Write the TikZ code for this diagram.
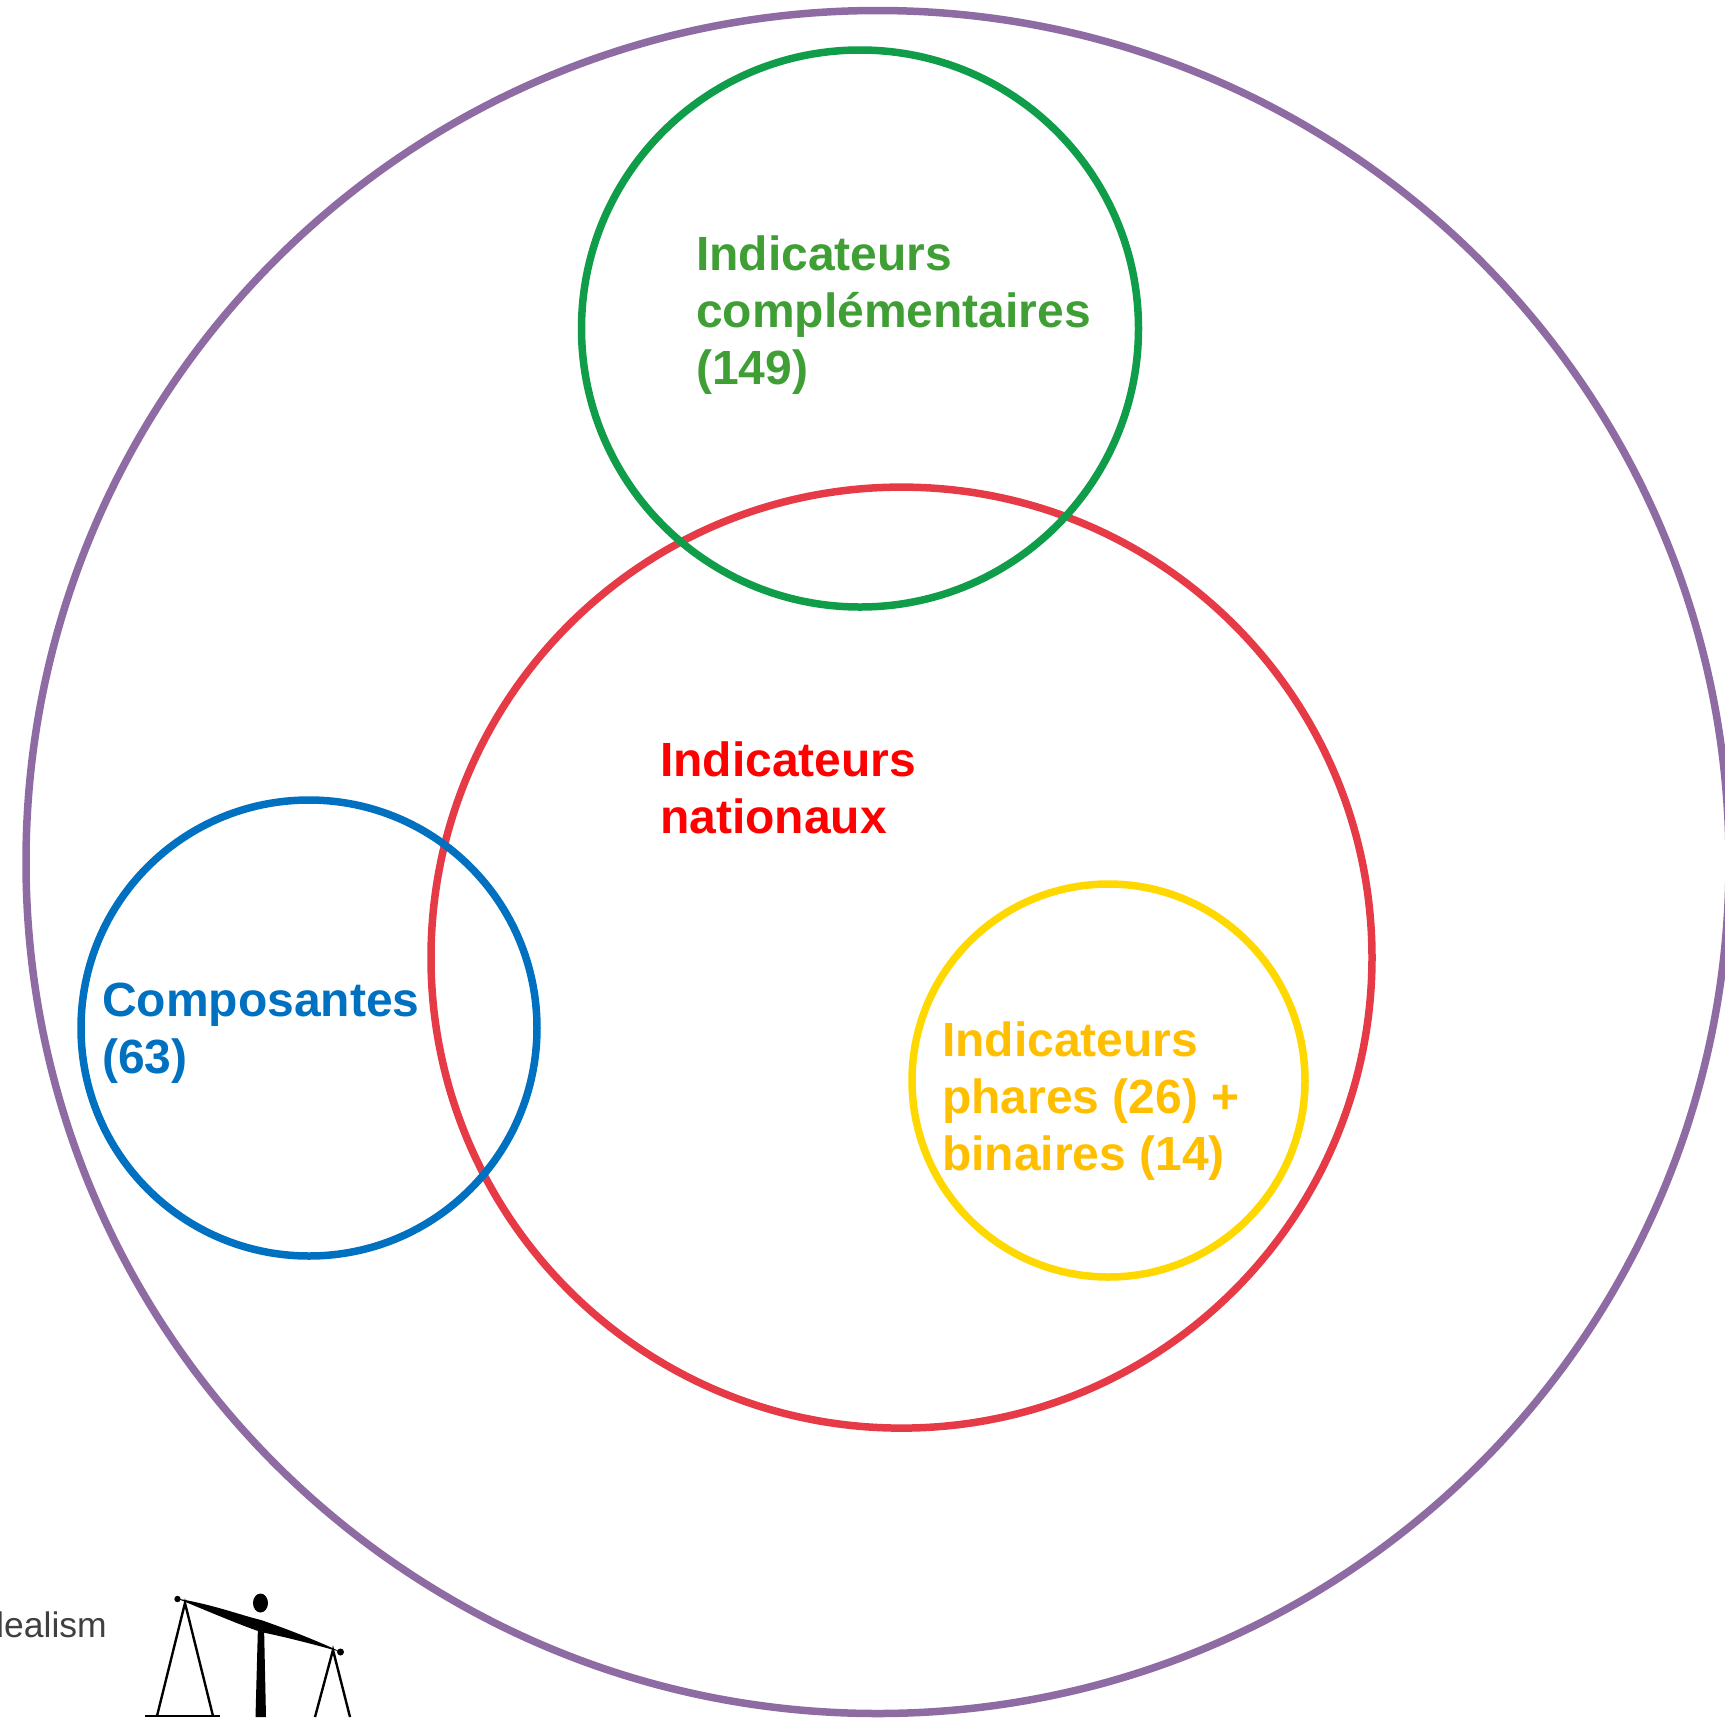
\documentclass[tikz,border=0pt]{standalone}
\usepackage{fontspec}
\setmainfont{Liberation Sans}
\definecolor{cpurple}{HTML}{8E6BA3}
\definecolor{cgreen}{HTML}{0F9D4A}
\definecolor{cred}{HTML}{E73A47}
\definecolor{cblue}{HTML}{0070C0}
\definecolor{cyellow}{HTML}{FFD800}
\definecolor{tgreen}{HTML}{3F9F35}
\definecolor{tred}{HTML}{FF0000}
\definecolor{tyellow}{HTML}{FFBF00}
\tikzset{
  ring/.style={circle,draw=#1,line width=7.5pt,inner sep=0pt,fill=none},
  lab/.style={font=\fontsize{48}{57}\selectfont\bfseries,text=#1,align=left,anchor=west,inner sep=0pt},
}
\begin{document}
\begin{tikzpicture}[x=1pt,y=-1pt]
\useasboundingbox (0,0) rectangle (1725,1717);
\clip (0,0) rectangle (1725,1717);
\node[ring=cpurple,minimum size=1703pt] (outer) at (877.5,862) {};
\node[ring=cred,minimum size=941pt] (national) at (901.5,957.6) {};
\node[ring=cgreen,minimum size=557pt] (compl) at (860,328.5) {};
\node[ring=cblue,minimum size=456pt] (comp) at (309,1028) {};
\node[ring=cyellow,minimum size=393pt] (phares) at (1108.5,1080.5) {};
\node[lab=tgreen] (tcompl) at (696,315) {Indicateurs\\complémentaires\\(149)};
\node[lab=tred] (tnat) at (660,787.5) {Indicateurs\\nationaux};
\node[lab=cblue] (tcomp) at (102,1033) {Composantes\\(63)};
\node[lab=tyellow] (tphares) at (942,1101) {Indicateurs\\phares (26) +\\binaires (14)};
\node[anchor=base east,inner sep=0pt,text=black!75,font=\fontsize{35.5}{40}\selectfont] (ideal) at (107,1637) {Idealism};
% balance
\fill (260.5,1603) ellipse (7.5 and 9.5);
\fill (177.5,1599) circle (3.2);
\fill (340.5,1652) circle (3.5);
\fill (177,1598.5) .. controls (215,1605) and (240,1615) .. (261,1620)
  .. controls (290,1630) and (320,1642) .. (341,1652)
  .. controls (320,1646) and (290,1638) .. (261,1632)
  .. controls (240,1625) and (205,1610) .. cycle;
\fill (258,1625) -- (264,1625) -- (266,1717) -- (255.5,1717) -- cycle;
\draw[line width=2.4pt] (157,1716) -- (185,1603) -- (213,1716);
\draw[line width=2.6pt] (145,1716) -- (220,1716);
\draw[line width=2.4pt] (315,1717) -- (333,1650) -- (350,1717);
\end{tikzpicture}
\end{document}
